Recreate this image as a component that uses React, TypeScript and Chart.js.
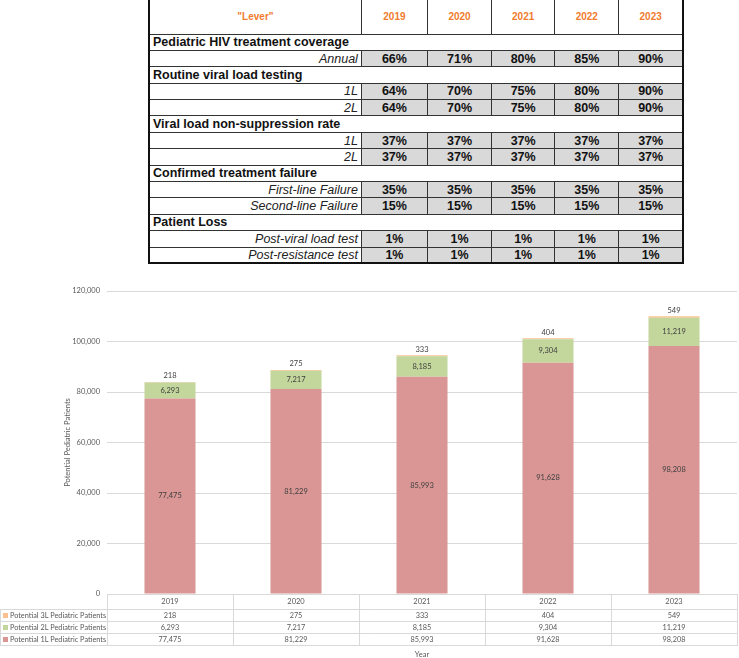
import React, { useEffect, useRef } from "react";
import { Chart, registerables } from "chart.js";

Chart.register(...registerables);

// ---------- Lever table data ----------
const leverHeader = '"Lever"';
const leverYears = ["2019", "2020", "2021", "2022", "2023"];
const sectionTitles = [
  "Pediatric HIV treatment coverage",
  "Routine viral load testing",
  "Viral load non-suppression rate",
  "Confirmed treatment failure",
  "Patient Loss",
];
const sectionRowLabels = [
  ["Annual"],
  ["1L", "2L"],
  ["1L", "2L"],
  ["First-line Failure", "Second-line Failure"],
  ["Post-viral load test", "Post-resistance test"],
];
const coverageAnnual = [66, 71, 80, 85, 90];
const vlTesting1L = [64, 70, 75, 80, 90];
const vlTesting2L = [64, 70, 75, 80, 90];
const nonSuppression1L = [37, 37, 37, 37, 37];
const nonSuppression2L = [37, 37, 37, 37, 37];
const failureFirstLine = [35, 35, 35, 35, 35];
const failureSecondLine = [15, 15, 15, 15, 15];
const lossPostVL = [1, 1, 1, 1, 1];
const lossPostResistance = [1, 1, 1, 1, 1];
const sectionRowValues = [
  [coverageAnnual],
  [vlTesting1L, vlTesting2L],
  [nonSuppression1L, nonSuppression2L],
  [failureFirstLine, failureSecondLine],
  [lossPostVL, lossPostResistance],
];

// ---------- Chart data ----------
const years = ["2019", "2020", "2021", "2022", "2023"];
const patients1L = [77475, 81229, 85993, 91628, 98208];
const patients2L = [6293, 7217, 8185, 9304, 11219];
const patients3L = [218, 275, 333, 404, 549];
const seriesNames = [
  "Potential 1L Pediatric Patients",
  "Potential 2L Pediatric Patients",
  "Potential 3L Pediatric Patients",
];
const seriesColors = ["#d99694", "#c3d69b", "#fac090"];
const yMin = 0;
const yMax = 120000;
const yStep = 20000;
const yTitle = "Potential Pediatric Patients";
const xTitle = "Year";

const FONT = "Lato, 'Liberation Sans', sans-serif";
const fmt = (v: number) => v.toLocaleString("en-US");

const labelPlugin = {
  id: "barLabels",
  afterDatasetsDraw(chart: any) {
    const ctx = chart.ctx;
    ctx.save();
    ctx.font = `7.5px ${FONT}`;
    ctx.fillStyle = "#404040";
    ctx.textAlign = "center";
    ctx.textBaseline = "middle";
    chart.data.datasets.forEach((ds: any, di: number) => {
      const meta = chart.getDatasetMeta(di);
      meta.data.forEach((bar: any, i: number) => {
        const v = ds.data[i] as number;
        const { x, y, base } = bar.getProps(["x", "y", "base"], true);
        if (di === 2) ctx.fillText(fmt(v), x, y - 6);
        else ctx.fillText(fmt(v), x, (y + base) / 2);
      });
    });
    ctx.restore();
  },
};

const tablePlugin = {
  id: "dataTable",
  afterDraw(chart: any) {
    const { ctx, chartArea, scales } = chart;
    const xs = scales.x;
    const top = Math.round(chartArea.bottom);
    const edges = [top, top + 15, top + 27, top + 39, top + 51];
    const left = Math.round(chartArea.left);
    const right = Math.round(chartArea.right);
    ctx.save();
    ctx.strokeStyle = "#d9d9d9";
    ctx.lineWidth = 1;
    const line = (x1: number, y1: number, x2: number, y2: number) => {
      ctx.beginPath();
      ctx.moveTo(x1, y1);
      ctx.lineTo(x2, y2);
      ctx.stroke();
    };
    line(left, top + 0.5, right, top + 0.5);
    for (let k = 1; k < edges.length; k++) line(0.5, edges[k] + 0.5, right, edges[k] + 0.5);
    line(0.5, edges[1], 0.5, edges[4] + 1);
    const n = years.length;
    const cw = (right - left) / n;
    for (let j = 0; j <= n; j++) {
      const x = Math.round(left + j * cw) + 0.5;
      line(x, top, x, edges[4] + 1);
    }
    const rows = [
      { name: seriesNames[2], values: patients3L, color: seriesColors[2] },
      { name: seriesNames[1], values: patients2L, color: seriesColors[1] },
      { name: seriesNames[0], values: patients1L, color: seriesColors[0] },
    ];
    ctx.font = `7.3px ${FONT}`;
    ctx.textBaseline = "middle";
    rows.forEach((r, ri) => {
      const yc = (edges[ri + 1] + edges[ri + 2]) / 2 + 0.5;
      ctx.fillStyle = r.color;
      ctx.fillRect(3, yc - 2.5, 5, 5);
      ctx.fillStyle = "#595959";
      ctx.textAlign = "left";
      ctx.fillText(r.name, 10, yc);
      ctx.textAlign = "center";
      r.values.forEach((v, j) => {
        ctx.fillText(fmt(v), xs.getPixelForTick(j), yc);
      });
    });
    ctx.restore();
  },
};

function LeverTable() {
  const border = "1px solid #333";
  const rowH = 16.4;
  const rows: React.ReactNode[] = [];
  sectionTitles.forEach((title, si) => {
    rows.push(
      <tr key={`s${si}`} style={{ height: rowH }}>
        <td
          colSpan={6}
          style={{
            border,
            padding: "0 0 0 3px",
            fontWeight: "bold",
            fontSize: 12.5,
            lineHeight: "14px",
            background: "#fff",
            color: "#111",
          }}
        >
          {title}
        </td>
      </tr>
    );
    sectionRowLabels[si].forEach((lab, ri) => {
      rows.push(
        <tr key={`r${si}-${ri}`} style={{ height: rowH }}>
          <td
            style={{
              border,
              padding: "0 3px 0 0",
              textAlign: "right",
              fontStyle: "italic",
              fontSize: 12.5,
              lineHeight: "14px",
              color: "#222",
              background: "#fff",
            }}
          >
            {lab}
          </td>
          {sectionRowValues[si][ri].map((v, j) => (
            <td
              key={j}
              style={{
                border,
                padding: 0,
                textAlign: "center",
                fontWeight: "bold",
                fontSize: 12.5,
                lineHeight: "14px",
                color: "#111",
                background: "#d9d9d9",
              }}
            >
              {v}%
            </td>
          ))}
        </tr>
      );
    });
  });
  const headStyle: React.CSSProperties = {
    border,
    padding: 0,
    textAlign: "center",
    fontWeight: "bold",
    fontSize: 10,
    color: "#f07c2e",
    background: "#fff",
  };
  return (
    <table
      style={{
        position: "absolute",
        left: 148,
        top: -2,
        width: 536,
        borderCollapse: "collapse",
        tableLayout: "fixed",
        fontFamily: "'Liberation Sans', Arial, sans-serif",
        border: "2px solid #111",
      }}
    >
      <colgroup>
        <col style={{ width: 212 }} />
        <col style={{ width: 66 }} />
        <col style={{ width: 64 }} />
        <col style={{ width: 63 }} />
        <col style={{ width: 64 }} />
        <col style={{ width: 64 }} />
      </colgroup>
      <tbody>
        <tr style={{ height: 35 }}>
          <td style={headStyle}>{leverHeader}</td>
          {leverYears.map((y) => (
            <td key={y} style={headStyle}>
              {y}
            </td>
          ))}
        </tr>
        {rows}
      </tbody>
    </table>
  );
}

export default function App() {
  const canvasRef = useRef<HTMLCanvasElement | null>(null);

  useEffect(() => {
    if (!canvasRef.current) return;
    const chart = new Chart(canvasRef.current, {
      type: "bar",
      data: {
        labels: years,
        datasets: [
          { label: seriesNames[0], data: patients1L, backgroundColor: seriesColors[0] },
          { label: seriesNames[1], data: patients2L, backgroundColor: seriesColors[1] },
          { label: seriesNames[2], data: patients3L, backgroundColor: seriesColors[2] },
        ],
      },
      options: {
        responsive: false,
        animation: false,
        events: [],
        layout: { padding: { top: 21, right: 2, left: 0, bottom: 0 } },
        datasets: { bar: { barPercentage: 0.405, categoryPercentage: 1 } },
        plugins: { legend: { display: false }, tooltip: { enabled: false } },
        scales: {
          x: {
            stacked: true,
            grid: { display: false, drawTicks: false },
            border: { display: false },
            ticks: { color: "#595959", font: { family: FONT, size: 7.5 }, padding: 3 },
            title: {
              display: true,
              text: xTitle,
              color: "#595959",
              font: { family: FONT, size: 7.5, lineHeight: 0.8 },
              padding: { top: 0, bottom: 0 },
            },
            afterFit: (s: any) => {
              s.height = 64;
            },
          },
          y: {
            stacked: true,
            min: yMin,
            max: yMax,
            grid: { color: "#d9d9d9", drawTicks: false },
            border: { display: false },
            ticks: {
              stepSize: yStep,
              color: "#595959",
              font: { family: FONT, size: 7.5 },
              padding: 7,
              callback: (v: any) => fmt(Number(v)),
            },
            title: {
              display: true,
              text: yTitle,
              color: "#595959",
              font: { family: FONT, size: 7.5 },
              padding: { top: 63.5, bottom: 0 },
            },
            afterFit: (s: any) => {
              s.width = 107;
            },
          },
        },
      },
      plugins: [labelPlugin, tablePlugin],
    });
    return () => chart.destroy();
  }, []);

  return (
    <div>
      <LeverTable />
      <div style={{ position: "absolute", left: 0, top: 270, width: 739, height: 388 }}>
        <canvas ref={canvasRef} width={739} height={388} style={{ display: "block" }} />
      </div>
    </div>
  );
}
